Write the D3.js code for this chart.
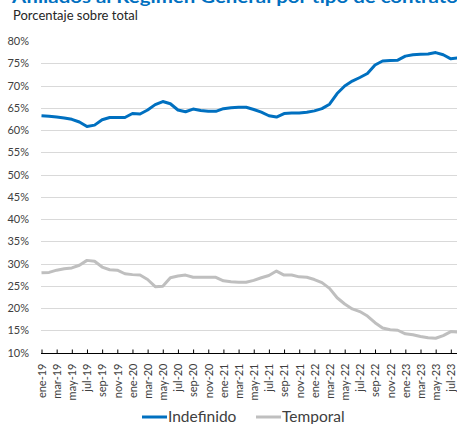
<!DOCTYPE html>
<html>
<head>
<meta charset="utf-8">
<script src="https://cdn.jsdelivr.net/npm/d3@7"></script>
<style>
  body { margin: 0; background: #fff; }
  svg { display: block; font-family: Lato, 'Open Sans', sans-serif; }
</style>
</head>
<body>
<div id="chart"></div>
<script>
'use strict'

const monthNames = ['ene', 'feb', 'mar', 'abr', 'may', 'jun', 'jul', 'ago', 'sep', 'oct', 'nov', 'dic']
const years = ['19', '20', '21', '22', '23']

// ene-19 .. ago-23
const months = []
years.forEach(y => monthNames.forEach(m => months.push(m + '-' + y)))
months.length = 56

const indefinido = [
  63.2, 63.1, 62.9, 62.7, 62.4, 61.8, 60.8, 61.1, 62.3, 62.8, 62.8, 62.8,
  63.7, 63.6, 64.5, 65.7, 66.4, 65.9, 64.5, 64.1, 64.7, 64.4, 64.2, 64.2,
  64.8, 65.0, 65.1, 65.1, 64.6, 64.0, 63.2, 62.9, 63.7, 63.8, 63.8, 64.0,
  64.3, 64.8, 65.8, 68.2, 69.9, 71.0, 71.8, 72.7, 74.6, 75.5, 75.6, 75.7,
  76.6, 76.9, 77.0, 77.1, 77.4, 76.9, 76.0, 76.2
]

const temporal = [
  27.9, 28.0, 28.5, 28.8, 29.0, 29.6, 30.7, 30.5, 29.2, 28.6, 28.5, 27.7,
  27.5, 27.4, 26.4, 24.8, 24.9, 26.8, 27.2, 27.4, 26.9, 26.9, 26.9, 26.9,
  26.1, 25.9, 25.8, 25.8, 26.2, 26.8, 27.3, 28.3, 27.4, 27.4, 27.0, 26.9,
  26.4, 25.7, 24.4, 22.3, 20.9, 19.8, 19.2, 18.2, 16.7, 15.5, 15.1, 15.0,
  14.2, 14.0, 13.6, 13.3, 13.2, 13.8, 14.7, 14.6
]

const yTicks = [10, 15, 20, 25, 30, 35, 40, 45, 50, 55, 60, 65, 70, 75, 80]
const xTickLabels = months.filter((m, i) => i % 2 === 0 && i <= 54)

const series = [
  { name: 'Indefinido', values: indefinido, color: '#0070C0' },
  { name: 'Temporal', values: temporal, color: '#BFBFBF' }
]

const width = 457
const height = 424

const svg = d3.select('#chart').append('svg')
  .attr('width', width)
  .attr('height', height)

const x = d3.scalePoint()
  .domain(months)
  .range([41.5, 41.5 + 7.58 * (months.length - 1)])

const y = d3.scaleLinear()
  .domain([10, 80])
  .range([352.5, 41])

// title (cut off at the top, like the original)
svg.append('text')
  .attr('x', 12)
  .attr('y', 3)
  .attr('fill', '#0070C0')
  .attr('font-weight', 'bold')
  .attr('font-size', 17)
  .attr('textLength', 446)
  .attr('lengthAdjust', 'spacingAndGlyphs')
  .text('Afiliados al Régimen General por tipo de contrato')

svg.append('text')
  .attr('x', 13)
  .attr('y', 20)
  .attr('fill', '#262626')
  .attr('font-size', 13)
  .text('Porcentaje sobre total')

// gridlines
svg.append('g')
  .selectAll('line')
  .data(yTicks.filter(t => t > 10 && t < 80))
  .enter()
  .append('line')
  .attr('x1', 41)
  .attr('x2', width)
  .attr('y1', d => Math.round(y(d)) + 0.5)
  .attr('y2', d => Math.round(y(d)) + 0.5)
  .attr('stroke', '#D9D9D9')
  .attr('stroke-width', 1)

// y axis labels
const yAxis = d3.axisLeft(y)
  .tickValues(yTicks)
  .tickFormat(d => d + '%')
  .tickSize(0)
  .tickPadding(12)

const gY = svg.append('g')
  .attr('transform', 'translate(41,0)')
  .call(yAxis)
gY.select('.domain').remove()
gY.selectAll('text')
  .attr('fill', '#404040')
  .attr('font-size', 11)
  .attr('font-family', 'Lato, sans-serif')

// x axis
const xAxis = d3.axisBottom(x)
  .tickValues(xTickLabels)
  .tickSizeInner(-4)
  .tickSizeOuter(0)

const gX = svg.append('g')
  .attr('transform', `translate(0,${Math.round(y(10)) + 0.5})`)
  .call(xAxis)
gX.select('.domain')
  .attr('d', `M41,0H${width}`)
  .attr('stroke', '#000')
gX.selectAll('.tick line').attr('stroke', '#000')
gX.selectAll('text')
  .attr('transform', 'rotate(-90)')
  .attr('text-anchor', 'end')
  .attr('x', -10)
  .attr('y', 0)
  .attr('dy', '0.35em')
  .attr('fill', '#404040')
  .attr('font-size', 11)
  .attr('font-family', 'Lato, sans-serif')

// lines
const line = d3.line()
  .x((d, i) => x(months[i]))
  .y(d => y(d))

svg.append('g')
  .selectAll('path')
  .data(series.slice().reverse())
  .enter()
  .append('path')
  .attr('d', d => line(d.values))
  .attr('fill', 'none')
  .attr('stroke', d => d.color)
  .attr('stroke-width', 3)
  .attr('stroke-linejoin', 'round')

// legend
const legendPos = [142, 256]
const legend = svg.append('g')
  .selectAll('g')
  .data(series)
  .enter()
  .append('g')
  .attr('transform', (d, i) => `translate(${legendPos[i]},417)`)

legend.append('line')
  .attr('x1', 0)
  .attr('x2', 25)
  .attr('stroke', d => d.color)
  .attr('stroke-width', 3)

legend.append('text')
  .attr('x', 26)
  .attr('dy', '0.35em')
  .attr('fill', '#404040')
  .attr('font-size', 15.5)
  .text(d => d.name)
</script>
</body>
</html>
